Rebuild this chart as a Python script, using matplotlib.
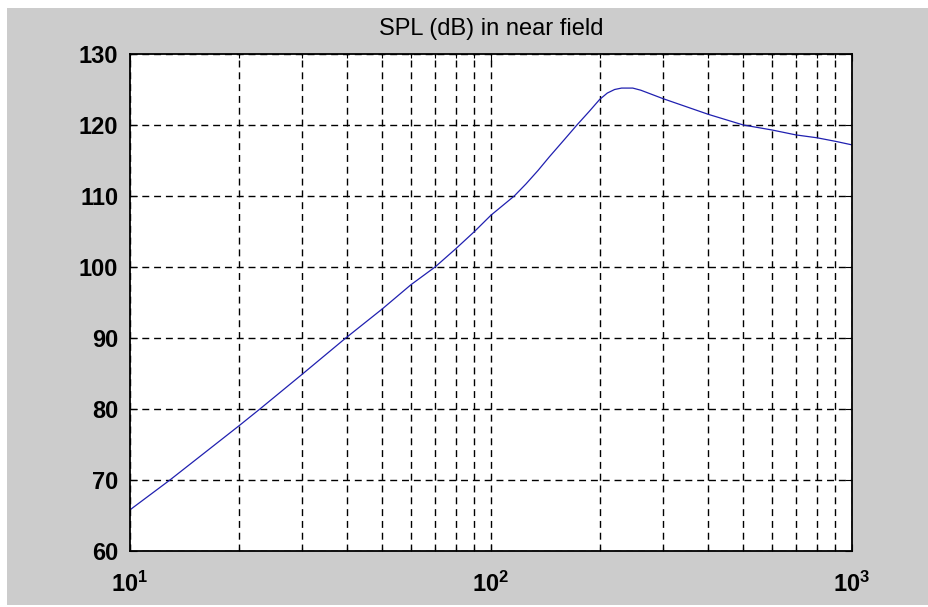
import matplotlib
matplotlib.use("Agg")
import matplotlib.pyplot as plt
from matplotlib.patches import Rectangle
import numpy as np

# values (frequency in Hz, SPL in dB)
freq = [10, 12.9, 20, 22.9, 30, 39.6, 50, 60, 70, 80, 90, 100, 108, 116,
        125, 135, 145, 160, 173, 187, 200, 210, 220, 230, 247, 260, 300,
        400, 500, 600, 700, 800, 900, 1000]
spl = [65.8, 70.0, 77.6, 80.0, 84.9, 90.0, 94.1, 97.5, 100.0, 102.6, 105.0, 107.3, 108.7, 110.0,
       111.7, 113.6, 115.5, 118.0, 120.0, 121.9, 123.6, 124.5, 125.0, 125.2, 125.2, 124.9, 123.7,
       121.5, 120.0, 119.3, 118.6, 118.2, 117.7, 117.2]

yticks = np.arange(60, 131, 10)

plt.rcParams['font.family'] = ['Liberation Sans', 'DejaVu Sans']
plt.rcParams['mathtext.default'] = 'regular'
plt.rcParams['lines.scale_dashes'] = False

W, H = 929, 607
fig = plt.figure(figsize=(W / 100, H / 100), dpi=100)
fig.patch.set_facecolor('white')
# gray window area (thin white strip on top / left like the screenshot)
fig.patches.append(Rectangle((7 / W, 2 / H), 1 - 7 / W, (H - 10) / H,
                             transform=fig.transFigure, facecolor='#cccccc',
                             edgecolor='none', zorder=-10))

ax = fig.add_axes([130 / W, 56 / H, 722 / W, 497 / H])
ax.set_facecolor('white')

ax.semilogx(freq, spl, color='#2020b0', lw=0.9)

ax.set_xlim(10, 1000)
ax.set_ylim(60, 130)
ax.set_yticks(yticks)

ax.grid(True, which='both', axis='x', color='black', linestyle=(0, (5, 3.5)), lw=1.0)
ax.grid(True, which='major', axis='y', color='black', linestyle=(0, (5, 3.5)), lw=1.0)

for s in ax.spines.values():
    s.set_linewidth(1.3)
    s.set_color('black')

ax.tick_params(which='both', direction='in', top=True, right=True, width=0.8)
ax.tick_params(which='major', length=5)
ax.tick_params(which='minor', length=3)
ax.tick_params(axis='y', pad=8.5, labelsize=17)
ax.tick_params(axis='x', pad=15, labelsize=17)
for lab in ax.get_yticklabels() + ax.get_xticklabels():
    lab.set_fontweight('bold')

ax.set_title('SPL (dB) in near field', fontsize=17, pad=14)

plt.savefig('out.png', dpi=100, facecolor=fig.get_facecolor())
